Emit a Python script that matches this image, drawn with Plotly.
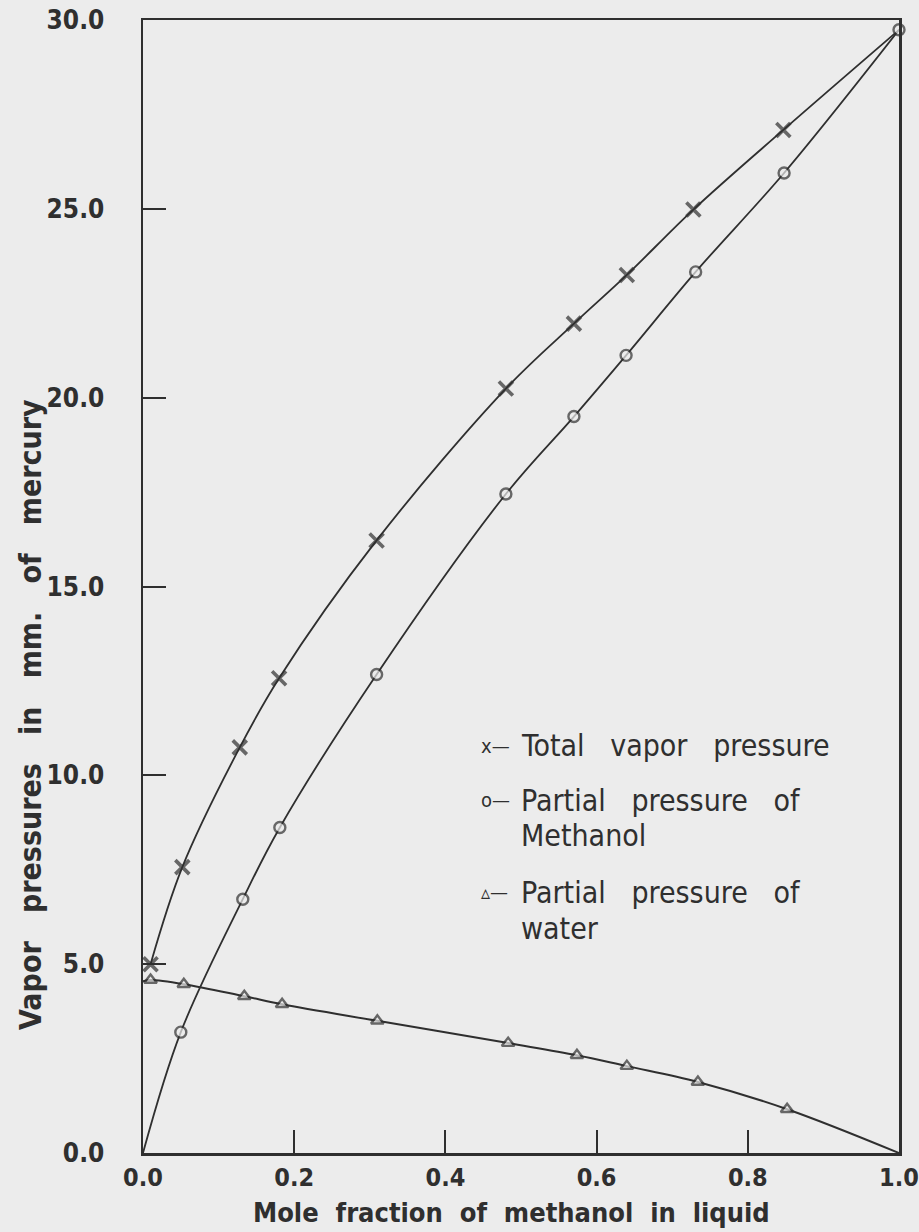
import plotly.graph_objects as go

# Total vapor pressure (x markers)
total_x = [0.01, 0.052, 0.128, 0.180, 0.309, 0.480, 0.570, 0.640, 0.728, 0.847, 1.0]
total_y = [5.0, 7.57, 10.74, 12.57, 16.22, 20.24, 21.96, 23.25, 24.98, 27.09, 29.74]
total_marker = [1, 1, 1, 1, 1, 1, 1, 1, 1, 1, 0]

# Partial pressure of methanol (circles)
meth_x = [0.0, 0.05, 0.132, 0.181, 0.309, 0.480, 0.570, 0.639, 0.731, 0.848, 1.0]
meth_y = [0.0, 3.2, 6.72, 8.62, 12.67, 17.45, 19.5, 21.12, 23.33, 25.95, 29.74]
meth_marker = [0, 1, 1, 1, 1, 1, 1, 1, 1, 1, 1]

# Partial pressure of water (triangles)
water_x = [0.0, 0.01, 0.054, 0.134, 0.184, 0.31, 0.483, 0.574, 0.640, 0.734, 0.852, 1.0]
water_y = [4.55, 4.58, 4.47, 4.15, 3.94, 3.5, 2.91, 2.59, 2.30, 1.88, 1.16, 0.0]
water_marker = [0, 1, 1, 1, 1, 1, 1, 1, 1, 1, 1, 0]

x_ticks = [0.0, 0.2, 0.4, 0.6, 0.8, 1.0]
x_tick_text = ["0.0", "0.2", "0.4", "0.6", "0.8", "1.0"]
y_ticks = [0, 5, 10, 15, 20, 25, 30]
y_tick_text = ["0.0", "5.0", "10.0", "15.0", "20.0", "25.0", "30.0"]

legend_symbols = ["x—", "o—", "▵—"]
legend_texts = ["Total vapor pressure", "Partial pressure of", "Methanol",
                "Partial pressure of", "water"]

x_title = "Mole fraction of methanol in liquid"
y_title = "Vapor pressures in mm. of mercury"

INK = "#2f2f2f"
BG = "#ececec"
FONT = "DejaVu Sans Condensed, DejaVu Sans"
SP3 = "&nbsp;&nbsp;&nbsp;"
SP2 = "&nbsp;&nbsp;"

fig = go.Figure()

fig.add_trace(go.Scatter(
    x=total_x, y=total_y, mode="lines+markers",
    line=dict(color=INK, width=1.8, shape="spline", smoothing=1.0),
    marker=dict(symbol="x-thin", size=[14 * m for m in total_marker],
                line=dict(color=INK, width=3.6), color=INK),
    cliponaxis=False, showlegend=False, hoverinfo="skip"))

fig.add_trace(go.Scatter(
    x=meth_x, y=meth_y, mode="lines+markers",
    line=dict(color=INK, width=1.8, shape="spline", smoothing=1.0),
    marker=dict(symbol="circle", size=[11 * m for m in meth_marker],
                color=BG, line=dict(color=INK, width=2.4)),
    cliponaxis=False, showlegend=False, hoverinfo="skip"))

fig.add_trace(go.Scatter(
    x=water_x, y=water_y, mode="lines+markers",
    line=dict(color=INK, width=2.0, shape="spline", smoothing=1.0),
    marker=dict(symbol="triangle-up", size=[11 * m for m in water_marker],
                color=BG, line=dict(color=INK, width=2.4)),
    cliponaxis=False, showlegend=False, hoverinfo="skip"))

# legend drawn as text inside the plot
sym_rows = [10.79, 9.34, 6.90]
text_rows = [10.79, 9.34, 8.41, 6.90, 5.95]
for sy, s in zip(sym_rows, legend_symbols):
    fig.add_annotation(x=0.445, y=sy, xref="x", yref="y", text=s,
                       showarrow=False, xanchor="left", yanchor="middle",
                       font=dict(family=FONT, size=20, color=INK))
for ty, t in zip(text_rows, legend_texts):
    fig.add_annotation(x=0.497, y=ty, xref="x", yref="y", text=t.replace(" ", SP3),
                       showarrow=False, xanchor="left", yanchor="middle",
                       font=dict(family=FONT, size=30, color=INK))

# axis titles
fig.add_annotation(x=-0.149, y=0.387, xref="paper", yref="paper",
                   text=y_title.replace(" ", SP3),
                   textangle=-90, showarrow=False, xanchor="center", yanchor="middle",
                   font=dict(family=FONT, size=30, color=INK, weight="bold"))
fig.add_annotation(x=0.487, y=-0.0525, xref="paper", yref="paper",
                   text=x_title.replace(" ", SP2),
                   showarrow=False, xanchor="center", yanchor="middle",
                   font=dict(family=FONT, size=27, color=INK, weight="bold"))

fig.update_layout(
    width=919, height=1232,
    margin=dict(l=143, r=20, t=20, b=79, autoexpand=False),
    paper_bgcolor=BG, plot_bgcolor=BG,
    font=dict(family=FONT, color=INK),
    hovermode=False,
)

fig.update_xaxes(
    range=[0, 1], tickvals=x_ticks, ticktext=x_tick_text,
    ticks="inside", ticklen=23, tickwidth=2, tickcolor=INK,
    showline=True, linecolor=INK, linewidth=2.5, mirror=True,
    showgrid=False, zeroline=False, ticklabeloverflow="allow", automargin=False,
    tickfont=dict(family=FONT, size=25, color=INK, weight="bold"),
)
fig.update_yaxes(
    range=[0, 30], tickvals=y_ticks, ticktext=y_tick_text,
    ticks="inside", ticklen=23, tickwidth=2, tickcolor=INK,
    showline=True, linecolor=INK, linewidth=2.5, mirror=True,
    showgrid=False, zeroline=False, ticklabeloverflow="allow", automargin=False,
    tickfont=dict(family=FONT, size=26, color=INK, weight="bold"),
    ticklabelstandoff=31,
)

fig.write_html(
    "out.html",
    config={"displayModeBar": False, "staticPlot": True},
    post_script="document.body.style.margin='0';document.body.style.background='#ececec';",
)
